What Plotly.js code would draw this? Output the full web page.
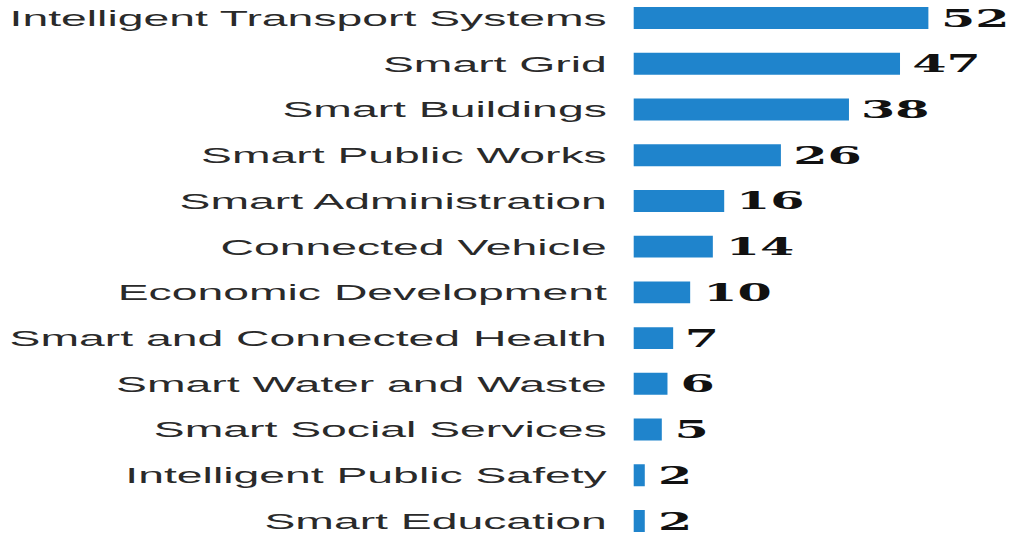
<!DOCTYPE html>
<html>
<head>
<meta charset="utf-8">
<script src="https://cdn.plot.ly/plotly-3.0.1.min.js"></script>
<style>
html, body { margin: 0; padding: 0; background: #fff; overflow: hidden; width: 1014px; height: 535px; }
#chart { width: 495px; height: 535px; transform: scaleX(2.05); transform-origin: 0 0; }
</style>
</head>
<body>
<div id="chart"></div>
<script>
const categories = [
  "Intelligent Transport Systems",
  "Smart Grid",
  "Smart Buildings",
  "Smart Public Works",
  "Smart Administration",
  "Connected Vehicle",
  "Economic Development",
  "Smart and Connected Health",
  "Smart Water and Waste",
  "Smart Social Services",
  "Intelligent Public Safety",
  "Smart Education"
];
const counts = [52, 47, 38, 26, 16, 14, 10, 7, 6, 5, 2, 2];

const barColor = "#1f84cc";

const trace = {
  type: "bar",
  orientation: "h",
  x: counts,
  y: categories,
  width: 0.48,
  marker: { color: barColor },
  hoverinfo: "none",
  textposition: "none"
};

const annotations = counts.map((v, i) => ({
  x: v,
  y: categories[i],
  xref: "x",
  yref: "y",
  text: String(v),
  showarrow: false,
  xanchor: "left",
  yanchor: "middle",
  xshift: 4,
  font: { family: "DejaVu Serif", size: 24, color: "#111", weight: "bold" }
}));

const layout = {
  width: 495,
  height: 535,
  margin: { l: 309, r: 20, t: 0, b: 0, pad: 0 },
  paper_bgcolor: "#ffffff",
  plot_bgcolor: "#ffffff",
  showlegend: false,
  xaxis: {
    range: [0, 60],
    visible: false,
    showgrid: false,
    zeroline: false
  },
  yaxis: {
    type: "category",
    range: [11.306, -0.394],
    showgrid: false,
    zeroline: false,
    showline: false,
    ticks: "",
    ticklabelstandoff: 12,
    tickfont: { family: "Liberation Sans, Arial, sans-serif", size: 22.6, color: "#2a2a2a" }
  },
  annotations: annotations
};

Plotly.newPlot("chart", [trace], layout, { displayModeBar: false, staticPlot: true });
</script>
</body>
</html>
